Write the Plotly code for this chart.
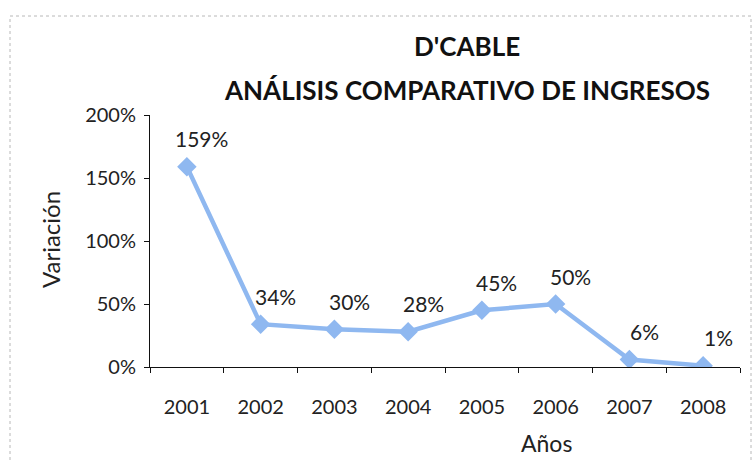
import plotly.graph_objects as go

years = ["2001", "2002", "2003", "2004", "2005", "2006", "2007", "2008"]
variation = [159, 34, 30, 28, 45, 50, 6, 1]
labels = ["159%", "34%", "30%", "28%", "45%", "50%", "6%", "1%"]
y_ticks = [0, 50, 100, 150, 200]
y_tick_labels = ["0%", "50%", "100%", "150%", "200%"]

W, H = 756, 461
L, R, T, B = 150, 740, 115, 367

def px(x):
    return (x - L) / (R - L)

def py(y):
    return (B - y) / (B - T)

FONT = "Lato"
COLOR = "#8FB8F0"

fig = go.Figure()
fig.add_trace(go.Scatter(
    x=years, y=variation, mode="lines+markers",
    line=dict(color=COLOR, width=4.5),
    marker=dict(symbol="diamond", size=15, color=COLOR),
    showlegend=False, hoverinfo="skip",
))

annotations = []
for i, (v, t) in enumerate(zip(variation, labels)):
    annotations.append(dict(x=i, y=v, xref="x", yref="y", text=t, showarrow=False,
                            xshift=15, yshift=28, font=dict(family=FONT, size=21, color="#222")))

annotations += [
    dict(x=px(467), y=py(46), xref="paper", yref="paper", text="<b>D'CABLE</b>", showarrow=False,
         font=dict(family=FONT, size=26, color="#111"), xanchor="center", yanchor="middle"),
    dict(x=px(467), y=py(90), xref="paper", yref="paper", text="<b>ANÁLISIS COMPARATIVO DE INGRESOS</b>",
         showarrow=False, font=dict(family=FONT, size=26, color="#111"), xanchor="center", yanchor="middle"),
    dict(x=px(50), y=py(240), xref="paper", yref="paper", text="Variación", textangle=-90, showarrow=False,
         font=dict(family=FONT, size=24, color="#222"), xanchor="center", yanchor="middle"),
    dict(x=px(546), y=py(443), xref="paper", yref="paper", text="Años", showarrow=False,
         font=dict(family=FONT, size=23, color="#222"), xanchor="center", yanchor="middle"),
]

fig.update_layout(
    width=W, height=H, autosize=False,
    margin=dict(l=L, r=W - R, t=T, b=H - B, pad=0),
    paper_bgcolor="white", plot_bgcolor="white",
    annotations=annotations,
    shapes=[dict(type="rect", xref="paper", yref="paper",
                 x0=px(10), x1=px(751), y0=py(16), y1=py(475),
                 line=dict(color="#b8b8b8", width=1, dash="dot"), layer="below")],
    xaxis=dict(type="category", range=[-0.5, 7.5], showline=True, linecolor="#111", linewidth=1,
               ticks="outside", tickson="boundaries", ticklen=5, tickcolor="#111",
               showgrid=False, zeroline=False, ticklabelstandoff=22,
               tickfont=dict(family=FONT, size=20, color="#222")),
    yaxis=dict(range=[0, 200], tickvals=y_ticks, ticktext=y_tick_labels, showline=True,
               linecolor="#111", linewidth=1, ticks="outside", ticklen=5, tickcolor="#111",
               showgrid=False, zeroline=False, ticklabelstandoff=4,
               tickfont=dict(family=FONT, size=20, color="#222")),
)

fig.write_html("out.html")
